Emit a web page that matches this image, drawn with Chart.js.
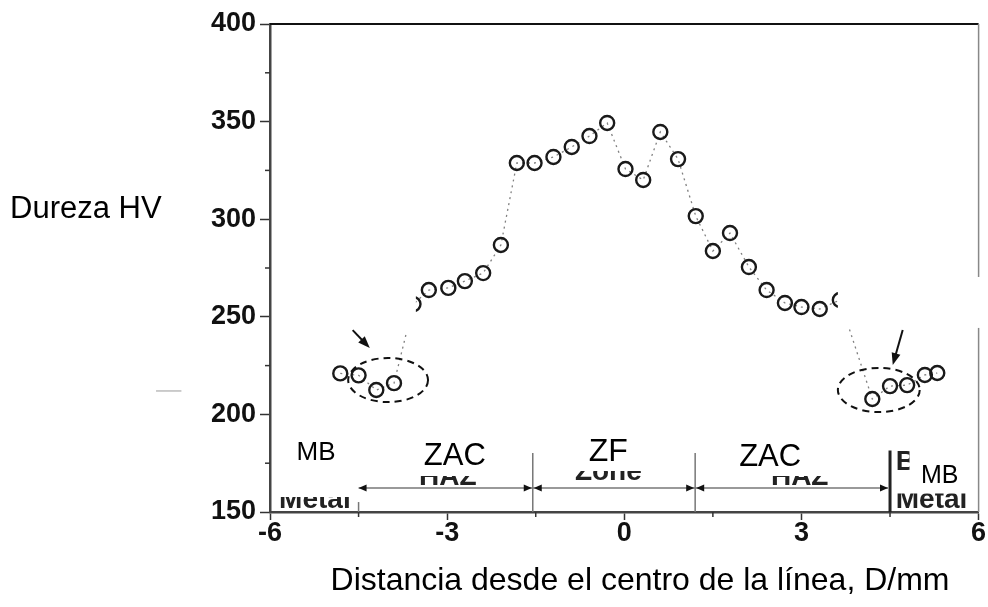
<!DOCTYPE html>
<html lang="es">
<head>
<meta charset="UTF-8">
<title>Dureza HV</title>
<script src="https://cdn.jsdelivr.net/npm/chart.js"></script>
<style>
    body { margin: 0; background: #fff; }
    #wrap { width: 988px; height: 607px; }
</style>
</head>
<body>
<div id="wrap"><canvas id="hardnessChart" width="988" height="607"></canvas></div>
<script>
// Perfil de dureza (mm, HV)
const distance = [-4.81, -4.50, -4.20, -3.90, -3.57, -3.31, -2.98, -2.70, -2.39, -2.09,
                  -1.82, -1.52, -1.20, -0.89, -0.59, -0.29, 0.02, 0.32, 0.61, 0.91,
                  1.21, 1.50, 1.79, 2.11, 2.41, 2.72, 3.00, 3.31, 3.65,
                  4.20, 4.50, 4.79, 5.09, 5.30];
const hardness = [221, 220, 212.5, 216, 256.5, 263.7, 264.8, 268.3, 272.4, 286.8,
                  328.8, 328.8, 331.9, 337, 342.6, 349.3, 325.7, 320.1, 344.7, 330.8,
                  301.6, 283.7, 292.9, 275.5, 263.7, 257.1, 255, 254, 258.6,
                  207.9, 214.5, 215, 220.2, 221.2];
const xTicks = [-6, -3, 0, 3, 6];
const yTicks = [150, 200, 250, 300, 350, 400];
const xMinor = [-4.5, -1.5, 1.5, 4.5];
const yMinor = [175, 225, 275, 325, 375];

// zonas de la soldadura
const zoneBounds = [-4.5, -1.55, 1.2, 4.5];
const zoneLabels = ["MB", "ZAC", "ZF", "ZAC", "MB"];

const FONT = "'Liberation Sans', Arial, sans-serif";

// anotaciones en unidades de datos
const arrowY = 162.3, boundTop = 180.2;
const labelSpots = [
    { x: -5.22, y: 180.2, size: 26 },
    { x: -2.87, y: 178.7, size: 31 },
    { x: -0.27, y: 180.7, size: 32 },
    { x: 2.47,  y: 178.2, size: 31 },
    { x: 5.34,  y: 168.4, size: 25 }
];
const ellipses = [
    { x: -4.0, y: 217.6, rx: 0.676, ry: 11.3 },
    { x: 4.31, y: 212.5, rx: 0.693, ry: 11.3 }
];
const pointers = [
    { x0: -4.60, y0: 243.2, x1: -4.31, y1: 234.0 },
    { x0: 4.715, y0: 243.2, x1: 4.546, y1: 225.3 }
];
const masks = [
    { x0: -5.95, x1: -3.53, y0: 265.3, y1: 242.2 },
    { x0: 3.617, x1: 6.2, y0: 270.4, y1: 244.3 }
];
// restos del texto original, recortados
const remnants = [
    { t: "HAZ", x: -2.99, y: 163.8, align: "center", cx: [-4.2, -1.8], cy: [168.5, 163.3] },
    { t: "HAZ", x: 2.97, y: 163.8, align: "center", cx: [1.6, 4.3], cy: [168.5, 163.3] },
    { t: "Zone", x: -0.27, y: 166.4, align: "center", cx: [-1.4, 1.0], cy: [171.0, 165.9] },
    { t: "Metal", x: -5.24, y: 152.0, align: "center", cx: [-5.95, -4.52], cy: [157.7, 150] },
    { t: "Base", x: 4.597, y: 171.5, align: "left", cx: [4.56, 4.83], cy: [184.3, 170.5] },
    { t: "Metal", x: 4.597, y: 152.0, align: "left", cx: [4.56, 6.1], cy: [159.5, 150] }
];

function arrowHead(ctx, x, y, ang, len, half) {
    ctx.beginPath();
    ctx.moveTo(x, y);
    ctx.lineTo(x - len * Math.cos(ang) + half * Math.sin(ang), y - len * Math.sin(ang) - half * Math.cos(ang));
    ctx.lineTo(x - len * Math.cos(ang) - half * Math.sin(ang), y - len * Math.sin(ang) + half * Math.cos(ang));
    ctx.closePath();
    ctx.fill();
}

const framePlugin = {
    id: 'frame',
    beforeDatasetsDraw(chart) {
        const { ctx, chartArea: a, scales: { x, y } } = chart;
        ctx.save();
        ctx.strokeStyle = '#111';
        ctx.lineWidth = 2;
        ctx.beginPath(); ctx.moveTo(a.left, a.top); ctx.lineTo(a.right, a.top); ctx.stroke();
        ctx.strokeStyle = '#888';
        ctx.lineWidth = 1.5;
        ctx.beginPath(); ctx.moveTo(a.right, a.top); ctx.lineTo(a.right, a.bottom); ctx.stroke();
        // ticks menores
        ctx.strokeStyle = '#333';
        ctx.lineWidth = 1.5;
        xMinor.forEach(v => {
            const px = x.getPixelForValue(v);
            ctx.beginPath(); ctx.moveTo(px, a.bottom); ctx.lineTo(px, a.bottom + 5); ctx.stroke();
        });
        yMinor.forEach(v => {
            const py = y.getPixelForValue(v);
            ctx.beginPath(); ctx.moveTo(a.left - 5, py); ctx.lineTo(a.left, py); ctx.stroke();
        });
        ctx.restore();
    }
};

const overlayPlugin = {
    id: 'overlay',
    afterDatasetsDraw(chart) {
        const { ctx, scales: { x, y } } = chart;
        const X = v => x.getPixelForValue(v);
        const Y = v => y.getPixelForValue(v);
        ctx.save();

        // recuadros blancos sobre la figura original
        ctx.fillStyle = '#fff';
        masks.forEach(m => ctx.fillRect(X(m.x0), Y(m.y0), X(m.x1) - X(m.x0), Y(m.y1) - Y(m.y0)));

        // restos de texto
        ctx.fillStyle = '#222';
        ctx.font = 'bold 28px ' + FONT;
        ctx.textBaseline = 'alphabetic';
        remnants.forEach(r => {
            ctx.save();
            ctx.beginPath();
            ctx.rect(X(r.cx[0]), Y(r.cy[0]), X(r.cx[1]) - X(r.cx[0]), Y(r.cy[1]) - Y(r.cy[0]));
            ctx.clip();
            ctx.textAlign = r.align;
            ctx.fillText(r.t, X(r.x), Y(r.y));
            ctx.restore();
        });

        // limites de zona
        ctx.strokeStyle = '#777';
        ctx.lineWidth = 1.5;
        zoneBounds.slice(1, 3).forEach(b => {
            ctx.beginPath(); ctx.moveTo(X(b), Y(boundTop)); ctx.lineTo(X(b), Y(150)); ctx.stroke();
        });
        ctx.beginPath(); ctx.moveTo(X(zoneBounds[0]), Y(155.1)); ctx.lineTo(X(zoneBounds[0]), Y(150)); ctx.stroke();
        ctx.strokeStyle = '#222';
        ctx.lineWidth = 3;
        ctx.beginPath(); ctx.moveTo(X(zoneBounds[3]), Y(181.5)); ctx.lineTo(X(zoneBounds[3]), Y(150)); ctx.stroke();

        // linea de flechas
        const ay = Y(arrowY);
        ctx.strokeStyle = '#777';
        ctx.lineWidth = 1.5;
        ctx.beginPath(); ctx.moveTo(X(zoneBounds[0]), ay); ctx.lineTo(X(zoneBounds[3]) - 2, ay); ctx.stroke();
        ctx.fillStyle = '#111';
        arrowHead(ctx, X(zoneBounds[0]), ay, Math.PI, 8, 3.5);
        [1, 2].forEach(i => {
            const bx = X(zoneBounds[i]);
            arrowHead(ctx, bx - 1, ay, 0, 8, 3.5);
            arrowHead(ctx, bx + 1, ay, Math.PI, 8, 3.5);
        });
        arrowHead(ctx, X(zoneBounds[3]) - 2, ay, 0, 8, 3.5);

        // elipses punteadas
        ctx.strokeStyle = '#111';
        ctx.lineWidth = 2;
        ctx.setLineDash([7, 5]);
        ellipses.forEach(e => {
            ctx.beginPath();
            ctx.ellipse(X(e.x), Y(e.y), X(e.x + e.rx) - X(e.x), Y(e.y - e.ry) - Y(e.y), 0, 0, Math.PI * 2);
            ctx.stroke();
        });
        ctx.setLineDash([]);

        // flechas que senalan las elipses
        pointers.forEach(p => {
            const sx = X(p.x0), sy = Y(p.y0), tx = X(p.x1), ty = Y(p.y1);
            const ang = Math.atan2(ty - sy, tx - sx);
            ctx.lineWidth = 2;
            ctx.beginPath(); ctx.moveTo(sx, sy); ctx.lineTo(tx - 6 * Math.cos(ang), ty - 6 * Math.sin(ang)); ctx.stroke();
            arrowHead(ctx, tx, ty, ang, 12, 4.5);
        });

        // etiquetas de zona
        ctx.fillStyle = '#000';
        ctx.textAlign = 'center';
        ctx.textBaseline = 'middle';
        zoneLabels.forEach((t, i) => {
            const s = labelSpots[i];
            ctx.font = s.size + 'px ' + FONT;
            ctx.fillText(t, X(s.x), Y(s.y));
        });

        // raya gris suelta a la izquierda
        ctx.strokeStyle = '#999';
        ctx.lineWidth = 1;
        ctx.beginPath(); ctx.moveTo(X(-7.93), Y(212)); ctx.lineTo(X(-7.5), Y(212)); ctx.stroke();

        // titulos de ejes
        ctx.fillStyle = '#000';
        ctx.textBaseline = 'alphabetic';
        ctx.font = '31px ' + FONT;
        ctx.textAlign = 'left';
        ctx.fillText('Dureza HV', 10, 218);
        ctx.font = '32px ' + FONT;
        ctx.textAlign = 'center';
        ctx.fillText('Distancia desde el centro de la línea, D/mm', 640, 590);
        ctx.restore();
    }
};

const ctx = document.getElementById('hardnessChart').getContext('2d');
new Chart(ctx, {
    type: 'scatter',
    data: {
        datasets: [{
            data: distance.map((d, i) => ({ x: d, y: hardness[i] })),
            showLine: true,
            borderColor: '#808080',
            borderWidth: 1.3,
            borderDash: [2, 4],
            pointRadius: 7,
            pointBorderWidth: 2.4,
            pointBorderColor: '#1a1a1a',
            pointBackgroundColor: 'rgba(0,0,0,0)',
            tension: 0
        }]
    },
    options: {
        responsive: false,
        animation: false,
        layout: { padding: { top: 24, right: 9, left: 0, bottom: 0 } },
        plugins: { legend: { display: false }, tooltip: { enabled: false } },
        scales: {
            x: {
                type: 'linear',
                min: -6,
                max: 6,
                afterFit: s => { s.height = 95; },
                border: { color: '#444', width: 2.5 },
                grid: {
                    drawOnChartArea: false,
                    tickLength: 8,
                    tickWidth: 1.5,
                    tickColor: c => xTicks.includes(c.tick.value) ? '#333' : 'rgba(0,0,0,0)'
                },
                ticks: {
                    stepSize: 1.5,
                    autoSkip: false,
                    maxRotation: 0,
                    padding: -3,
                    color: '#111',
                    font: { family: FONT, size: 27, weight: 'bold' },
                    callback: v => xTicks.includes(v) ? String(v) : ''
                }
            },
            y: {
                min: 150,
                max: 400,
                afterFit: s => { s.width = 270; },
                border: { color: '#444', width: 2.5 },
                grid: {
                    drawOnChartArea: false,
                    tickLength: 10,
                    tickWidth: 1.5,
                    tickColor: c => yTicks.includes(c.tick.value) ? '#333' : 'rgba(0,0,0,0)'
                },
                ticks: {
                    stepSize: 25,
                    autoSkip: false,
                    padding: 4,
                    color: '#111',
                    font: { family: FONT, size: 27, weight: 'bold' },
                    callback: v => yTicks.includes(v) ? String(v) : ''
                }
            }
        }
    },
    plugins: [framePlugin, overlayPlugin]
});
</script>
</body>
</html>
